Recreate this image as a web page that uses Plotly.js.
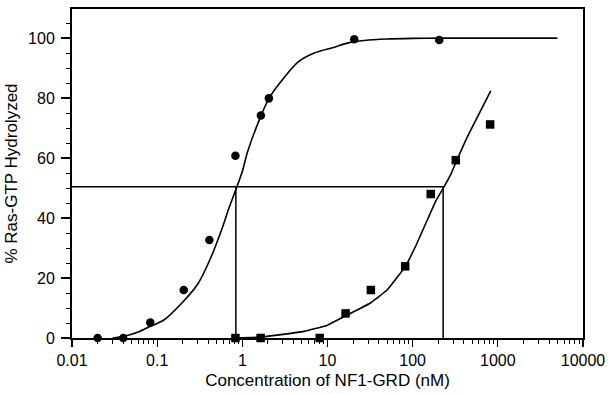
<!DOCTYPE html>
<html>
<head>
<meta charset="utf-8">
<script src="https://cdn.plot.ly/plotly-3.0.1.min.js"></script>
<style>
html,body{margin:0;padding:0;background:#fff;}
#chart{width:608px;height:394px;}
</style>
</head>
<body>
<div id="chart"></div>
<script>
// Circles: NF1-GRD (high affinity)
const circleX = [0.02, 0.04, 0.083, 0.205, 0.41, 0.83, 1.65, 2.05, 20.6, 205];
const circleY = [0, 0, 5.2, 16, 32.7, 60.8, 74.2, 79.9, 99.6, 99.4];
// Squares
const squareX = [0.83, 1.64, 8.1, 16.3, 32.3, 81.7, 163, 321, 812];
const squareY = [0, 0, 0, 8.2, 16, 23.9, 48, 59.3, 71.2];
// Fitted curve through circles
const circleFitX = [0.03, 0.04, 0.06, 0.082, 0.12, 0.2, 0.3, 0.415, 0.57, 0.7, 0.84, 1.0, 1.15, 1.65, 2.05, 2.75, 4.5, 7, 11.5, 17.5, 27, 50, 100, 200, 500, 1000, 5000];
const circleFitY = [0, 0.5, 2, 3.8, 6, 12, 18, 26, 36, 43.5, 49.5, 55.5, 62, 74, 79.8, 85, 92, 95, 96.8, 98.4, 99.2, 99.7, 99.9, 100, 100, 100, 100];
// Fitted curve through squares
const squareFitX = [0.83, 1.64, 3, 5.3, 9.8, 16.3, 31.5, 50, 81.7, 110, 144, 189, 228, 285, 321, 429, 826];
const squareFitY = [0, 0.3, 1.2, 2.2, 4.2, 7.4, 11.6, 16, 23.8, 31, 38.5, 46, 49.9, 55, 58.5, 66.5, 82.4];
// EC50 guide lines
const guideX = [0.84, 0.84, null, 0.01, 228, null, 228, 228];
const guideY = [0, 50.4, null, 50.4, 50.4, null, 50.4, 0];
// Axis ticks
const xTickVals = [0.01, 0.1, 1, 10, 100, 1000, 10000];
const xTickText = ['0.01', '0.1', '1', '10', '100', '1000', '10000'];
const yTickVals = [0, 20, 40, 60, 80, 100];

const lineStyle = {color: '#000', width: 1.6};
const traces = [
  {x: guideX, y: guideY, mode: 'lines', line: {color: '#000', width: 1.5}, connectgaps: false, cliponaxis: false, hoverinfo: 'skip', showlegend: false},
  {x: circleFitX, y: circleFitY, mode: 'lines', line: Object.assign({shape: 'spline', smoothing: 0.6}, lineStyle), cliponaxis: false, showlegend: false},
  {x: squareFitX, y: squareFitY, mode: 'lines', line: Object.assign({shape: 'spline', smoothing: 0.3}, lineStyle), cliponaxis: false, showlegend: false},
  {x: circleX, y: circleY, mode: 'markers', marker: {symbol: 'circle', size: 8.5, color: '#000'}, cliponaxis: false, showlegend: false},
  {x: squareX, y: squareY, mode: 'markers', marker: {symbol: 'square', size: 8.5, color: '#000'}, cliponaxis: false, showlegend: false}
];

const font = {family: '"Liberation Sans", Arial, Helvetica, sans-serif', color: '#000'};
const layout = {
  width: 608, height: 394,
  margin: {l: 72, r: 25, t: 9, b: 56},
  paper_bgcolor: '#fff', plot_bgcolor: '#fff',
  font: Object.assign({size: 16}, font),
  showlegend: false,
  xaxis: {
    type: 'log', range: [-2, 4],
    tickmode: 'array', tickvals: xTickVals, ticktext: xTickText,
    ticks: 'outside', ticklen: 7, tickwidth: 1.3, tickcolor: '#000',
    minor: {ticks: 'outside', ticklen: 3.5, tickwidth: 1, tickcolor: '#000', dtick: 'D1', showgrid: false},
    showgrid: false, zeroline: false,
    showline: true, linecolor: '#000', linewidth: 2, mirror: true,
    tickfont: Object.assign({size: 16}, font),
    title: {text: 'Concentration of NF1-GRD (nM)', font: Object.assign({size: 17}, font), standoff: 6}
  },
  yaxis: {
    range: [0, 109.7],
    tickmode: 'array', tickvals: yTickVals,
    ticks: 'outside', ticklen: 9, tickwidth: 1.3, tickcolor: '#000',
    ticklabelstandoff: 3,
    minor: {ticks: 'outside', ticklen: 4, tickwidth: 1, tickcolor: '#000', dtick: 5, tick0: 0, showgrid: false},
    showgrid: false, zeroline: false,
    showline: true, linecolor: '#000', linewidth: 2, mirror: true,
    tickfont: Object.assign({size: 16}, font),
    title: {text: '% Ras-GTP Hydrolyzed', font: Object.assign({size: 17}, font), standoff: 6}
  }
};

Plotly.newPlot('chart', traces, layout, {displayModeBar: false, staticPlot: true});
</script>
</body>
</html>
